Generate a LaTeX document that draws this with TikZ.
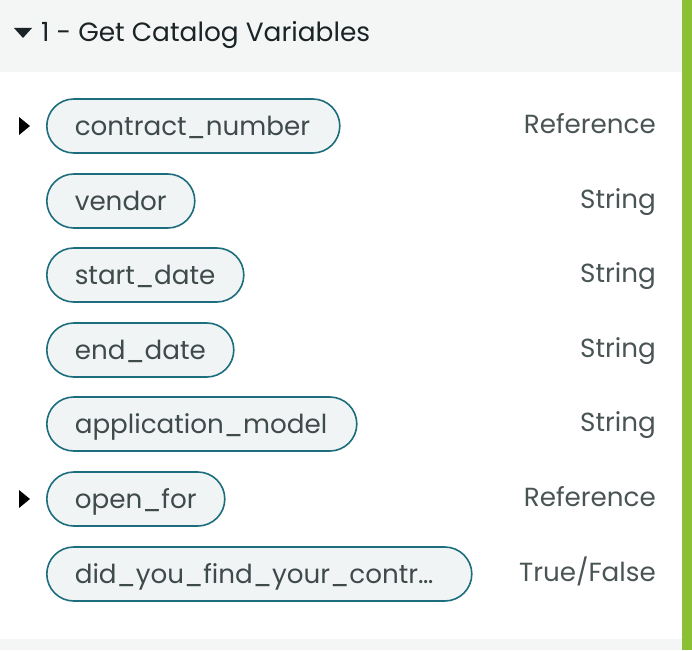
\documentclass[tikz,border=0pt]{standalone}
\usepackage{fontspec}
\setmainfont{Poppins}
\definecolor{bandgray}{HTML}{F4F5F5}
\definecolor{pillfill}{HTML}{F1F4F5}
\definecolor{pillline}{HTML}{1C6D7D}
\definecolor{pilltext}{HTML}{3F4A4B}
\definecolor{typetext}{HTML}{4A5455}
\definecolor{titletext}{HTML}{1A2426}
\definecolor{barGreen}{HTML}{8CC034}
\begin{document}
\begin{tikzpicture}[x=1pt,y=-1pt,
  pill/.style={draw=pillline, line width=1.6pt, fill=pillfill, rounded corners=27pt,
    minimum height=54pt, inner xsep=28pt, inner ysep=0pt, anchor=west,
    text=pilltext, font=\fontsize{26.2}{30}\selectfont, align=left,
    text height=18pt, text depth=0pt},
  typelabel/.style={anchor=base east, text=typetext, font=\fontsize{26.2}{30}\selectfont, inner sep=0pt},
  expander/.style={fill=black}]
\useasboundingbox (0,0) rectangle (692,650);
\fill[bandgray] (0,0) rectangle (682,72);
\fill[bandgray] (0,639) rectangle (682,650);
\fill[barGreen] (682,0) rectangle (692,650);
% header
\fill[titletext] (14,28) -- (32,28) -- (23,38) -- cycle;
\node[anchor=base west, inner sep=0pt, text=titletext, font=\fontsize{26.4}{30}\selectfont] (title) at (41,42) {1 - Get Catalog Variables};
% rows
\node[pill, text width=237pt] (p1) at (46,126) {contract\_number};
\node[pill, text width=92pt] (p2) at (46,201) {vendor};
\node[pill, text width=141pt] (p3) at (46,275) {start\_date};
\node[pill, text width=131pt] (p4) at (46,350) {end\_date};
\node[pill, text width=254pt] (p5) at (46,424) {application\_model};
\node[pill, text width=122pt] (p6) at (46,499) {open\_for};
\node[pill, text width=369pt] (p7) at (46,574) {did\_you\_find\_your\_contr…};
\node[typelabel] (t1) at (656,133) {Reference};
\node[typelabel] (t2) at (656,208) {String};
\node[typelabel] (t3) at (656,282) {String};
\node[typelabel] (t4) at (656,357) {String};
\node[typelabel] (t5) at (656,431) {String};
\node[typelabel] (t6) at (656,506) {Reference};
\node[typelabel] (t7) at (656,581) {True/False};
% expanders
\fill[expander] (19,117) -- (30,126) -- (19,135) -- cycle;
\fill[expander] (19,490) -- (30,499) -- (19,508) -- cycle;
\end{tikzpicture}
\end{document}
